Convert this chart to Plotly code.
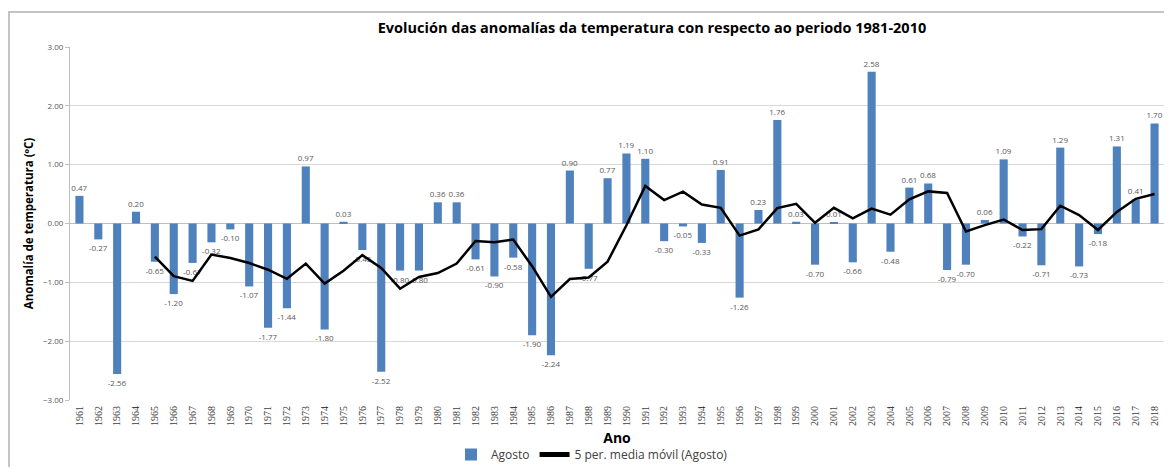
import plotly.graph_objects as go

years = [str(y) for y in range(1961, 2019)]
agosto = [0.47, -0.27, -2.56, 0.20, -0.65, -1.20, -0.67, -0.32, -0.10, -1.07,
          -1.77, -1.44, 0.97, -1.80, 0.03, -0.45, -2.52, -0.80, -0.80, 0.36,
          0.36, -0.61, -0.90, -0.58, -1.90, -2.24, 0.90, -0.77, 0.77, 1.19,
          1.10, -0.30, -0.05, -0.33, 0.91, -1.26, 0.23, 1.76, 0.03, -0.70,
          0.01, -0.66, 2.58, -0.48, 0.61, 0.68, -0.79, -0.70, 0.06, 1.09,
          -0.22, -0.71, 1.29, -0.73, -0.18, 1.31, 0.41, 1.70]
ma_years = [str(y) for y in range(1965, 2019)]
media_movil = [-0.562, -0.896, -0.976, -0.528, -0.588, -0.672, -0.786, -0.940,
               -0.682, -1.022, -0.802, -0.538, -0.754, -1.108, -0.908, -0.842,
               -0.680, -0.298, -0.318, -0.274, -0.726, -1.246, -0.944, -0.918,
               -0.648, -0.030, 0.638, 0.398, 0.542, 0.322, 0.266, -0.206,
               -0.100, 0.262, 0.334, 0.012, 0.266, 0.088, 0.252, 0.150,
               0.412, 0.546, 0.520, -0.136, -0.028, 0.068, -0.112, -0.096,
               0.302, 0.144, -0.110, 0.196, 0.420, 0.502]
y_ticks = [-3, -2, -1, 0, 1, 2, 3]

fig = go.Figure()
fig.add_trace(go.Bar(
    x=years, y=agosto, name="Agosto",
    marker=dict(color="#4F81BD", line=dict(width=0)),
    text=[f"{v:.2f}" for v in agosto], textposition="outside",
    textfont=dict(family="Open Sans", size=8, color="#595959"),
    constraintext="none", cliponaxis=False,
))
fig.add_trace(go.Scatter(
    x=ma_years, y=media_movil, name="5 per. media móvil (Agosto)",
    mode="lines", line=dict(color="black", width=2.5),
))

# page has an 8px body margin: figure pixel = page pixel - 8; keep page free of scrollbars
OFF = 8
W, H = 1172 - 2 * OFF, 475 - 2 * OFF
L, R, T, B = 70 - OFF, 0, 47 - OFF, H - (400 - OFF)
pw = W - L - R
ph = H - T - B

def px_x(p):
    return (p - OFF - L) / pw

def px_y(p):
    return (H - B - (p - OFF)) / ph

fig.update_layout(
    width=W, height=H,
    margin=dict(l=L, r=R, t=T, b=B, pad=0, autoexpand=False),
    paper_bgcolor="white", plot_bgcolor="white",
    bargap=0.57,
    showlegend=True,
    title=dict(text="<b>Evolución das anomalías da temperatura con respecto ao periodo 1981-2010</b>",
               x=px_x(652), xref="paper", xanchor="center",
               yref="container", y=1 - (28 - OFF) / H, yanchor="middle",
               font=dict(family="Open Sans", size=14.5, color="black")),
    legend=dict(orientation="h", x=px_x(592), xanchor="center", y=px_y(469), yanchor="bottom",
                font=dict(family="Open Sans", size=12, color="#404040"),
                bgcolor="rgba(0,0,0,0)", itemsizing="constant"),
    font=dict(family="Open Sans"),
    shapes=[dict(type="rect", xref="paper", yref="paper",
                 x0=px_x(9), x1=1.02, y0=px_y(12), y1=px_y(490),
                 line=dict(color="#c4c4c4", width=2), layer="below")],
)
fig.update_xaxes(
    type="category", categoryorder="array", categoryarray=years,
    automargin=False,
    tickangle=-90, tickfont=dict(family="Liberation Serif", size=10, color="#404040"),
    ticklabelstandoff=3,
    showgrid=False, showline=False, ticks="",
    title=dict(text="<b>Ano</b>", font=dict(family="Open Sans", size=14, color="black"), standoff=8),
)
fig.update_yaxes(
    range=[-3, 3], tickvals=y_ticks, tickformat=".2f",
    automargin=False,
    tickfont=dict(family="Open Sans", size=8, color="#595959"),
    showgrid=True, gridcolor="#d9d9d9", gridwidth=1,
    zeroline=True, zerolinecolor="#bfbfbf", zerolinewidth=1,
    showline=True, linecolor="#bfbfbf", linewidth=1,
    ticks="outside", ticklen=4, tickcolor="#bfbfbf",
    title=dict(text="<b>Anomalía de temperatura (ºC)</b>",
               font=dict(family="Open Sans", size=11.5, color="black"), standoff=6),
)

fig.write_html("out.html")
